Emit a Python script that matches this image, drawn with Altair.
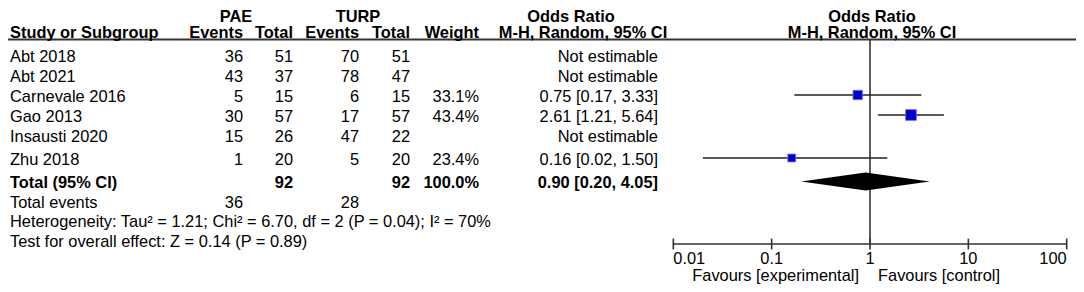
import altair as alt
import pandas as pd

# ---------------- data ----------------
studies = ["Abt 2018", "Abt 2021", "Carnevale 2016", "Gao 2013", "Insausti 2020", "Zhu 2018"]
pae_events = [36, 43, 5, 30, 15, 1]
pae_total = [51, 37, 15, 57, 26, 20]
turp_events = [70, 78, 6, 17, 47, 5]
turp_total = [51, 47, 15, 57, 22, 20]
weights = [None, None, 33.1, 43.4, None, 23.4]
or_est = [None, None, 0.75, 2.61, None, 0.16]
or_low = [None, None, 0.17, 1.21, None, 0.02]
or_high = [None, None, 3.33, 5.64, None, 1.50]
study_rows = [2.25, 3.25, 4.25, 5.25, 6.25, 7.4]

total_label = "Total (95% CI)"
total_pae = 92
total_turp = 92
total_weight = 100.0
total_or = 0.90
total_low = 0.20
total_high = 4.05
total_row = 8.58
events_row = 9.55
events_pae = 36
events_turp = 28
heterogeneity = "Heterogeneity: Tau\u00b2 = 1.21; Chi\u00b2 = 6.70, df = 2 (P = 0.04); I\u00b2 = 70%"
overall = "Test for overall effect: Z = 0.14 (P = 0.89)"
het_row = 10.5
overall_row = 11.5

tick_values = [0.01, 0.1, 1, 10, 100]
tick_labels = ["0.01", "0.1", "1", "10", "100"]
tick_align = ["left", "center", "center", "center", "right"]
favour_left = "Favours [experimental]"
favour_right = "Favours [control]"

# ---------------- layout ----------------
W, H = 1068, 236
FONT = "Liberation Sans"
FS = 16.4
DY = 1.5
head0_row = 0.25
head1_row = 1.075
header_line_row = 1.475
axis_row = 11.7
ticklabel_row = 12.375
favour_row = 13.2

yscale = alt.Scale(domain=[-0.1, axis_row], range=[0, H], zero=False, nice=False)
xscale = alt.Scale(type="log", domain=[0.01, 100], range=[665.3, 1058.7], nice=False)

def Y(field="row"):
    return alt.Y(f"{field}:Q", scale=yscale, axis=None)

def X(field):
    return alt.X(f"{field}:Q", scale=xscale, axis=None)

# column positions (x pixel, align)
cols = {
    "study": (2, "left"),
    "pae_e": (235, "right"),
    "pae_t": (285, "right"),
    "turp_e": (351, "right"),
    "turp_t": (402, "right"),
    "weight": (471, "right"),
    "or": (650, "right"),
    "h_pae": (228, "center"),
    "h_turp": (350, "center"),
    "h_or0": (563, "center"),
    "h_or1": (575, "center"),
    "h_forest": (864, "center"),
    "fav_l": (851, "right"),
    "fav_r": (870, "left"),
}

cells = []
def add(row, col, text, bold=False):
    cells.append({"row": row, "col": col, "text": str(text), "bold": bold})

# headers
add(head0_row, "h_pae", "PAE", True)
add(head0_row, "h_turp", "TURP", True)
add(head0_row, "h_or0", "Odds Ratio", True)
add(head0_row, "h_forest", "Odds Ratio", True)
add(head1_row, "study", "Study or Subgroup", True)
add(head1_row, "pae_e", "Events", True)
add(head1_row, "pae_t", "Total", True)
add(head1_row, "turp_e", "Events", True)
add(head1_row, "turp_t", "Total", True)
add(head1_row, "weight", "Weight", True)
add(head1_row, "h_or1", "M-H, Random, 95% CI", True)
add(head1_row, "h_forest", "M-H, Random, 95% CI", True)

for i, s in enumerate(studies):
    r = study_rows[i]
    add(r, "study", s)
    add(r, "pae_e", pae_events[i])
    add(r, "pae_t", pae_total[i])
    add(r, "turp_e", turp_events[i])
    add(r, "turp_t", turp_total[i])
    if weights[i] is not None:
        add(r, "weight", f"{weights[i]:.1f}%")
        add(r, "or", f"{or_est[i]:.2f} [{or_low[i]:.2f}, {or_high[i]:.2f}]")
    else:
        add(r, "or", "Not estimable")

add(total_row, "study", total_label, True)
add(total_row, "pae_t", total_pae, True)
add(total_row, "turp_t", total_turp, True)
add(total_row, "weight", f"{total_weight:.1f}%", True)
add(total_row, "or", f"{total_or:.2f} [{total_low:.2f}, {total_high:.2f}]", True)
add(events_row, "study", "Total events")
add(events_row, "pae_e", events_pae)
add(events_row, "turp_e", events_turp)
add(het_row, "study", heterogeneity)
add(overall_row, "study", overall)
add(favour_row, "fav_l", favour_left)
add(favour_row, "fav_r", favour_right)

cells_df = pd.DataFrame(cells)

layers = []

# header line
layers.append(
    alt.Chart(pd.DataFrame({"row": [header_line_row]}))
    .mark_rule(color="#333333", strokeWidth=2)
    .encode(x=alt.value(0), x2=alt.value(W), y=Y())
)

# table text
for col, (xpos, align) in cols.items():
    for bold in (False, True):
        sub = cells_df[(cells_df.col == col) & (cells_df.bold == bold)]
        if sub.empty:
            continue
        layers.append(
            alt.Chart(sub)
            .mark_text(align=align, baseline="middle", font=FONT, fontSize=FS, dy=DY,
                       fontWeight="bold" if bold else "normal", color="#000000")
            .encode(x=alt.value(xpos), y=Y(), text="text:N")
        )

# forest data
forest = pd.DataFrame({
    "row": study_rows, "est": or_est, "low": or_low, "high": or_high, "w": weights
}).dropna()

# line of no effect
layers.append(
    alt.Chart(pd.DataFrame({"x": [1.0], "row": [header_line_row], "row2": [axis_row]}))
    .mark_rule(color="#333333", strokeWidth=1.6)
    .encode(x=X("x"), y=Y(), y2="row2:Q")
)

# CI lines
layers.append(
    alt.Chart(forest)
    .mark_rule(color="#222222", strokeWidth=1.3)
    .encode(x=X("low"), x2="high:Q", y=Y())
)

# squares
layers.append(
    alt.Chart(forest)
    .mark_square(filled=True, color="#0000C4", stroke="#6A6AFF", strokeWidth=0.8, opacity=1)
    .encode(x=X("est"), y=Y(),
            size=alt.Size("w:Q", scale=alt.Scale(domain=[0, 100], range=[0, 265]), legend=None))
)

# diamond
diamond = pd.DataFrame({
    "x": [total_low, total_or, total_high],
    "top": [total_row, total_row - 0.45, total_row],
    "bot": [total_row, total_row + 0.45, total_row],
})
layers.append(
    alt.Chart(diamond)
    .mark_area(color="#000000", orient="vertical")
    .encode(x=X("x"), y=Y("top"), y2="bot:Q")
)

# axis line
layers.append(
    alt.Chart(pd.DataFrame({"x": [tick_values[0]], "x2": [tick_values[-1]], "row": [axis_row]}))
    .mark_rule(color="#333333", strokeWidth=1.6)
    .encode(x=X("x"), x2="x2:Q", y=Y())
)

# ticks
ticks = pd.DataFrame({"x": tick_values, "lab": tick_labels, "al": tick_align,
                      "row": [axis_row - 0.27] * 5, "row2": [axis_row + 0.27] * 5,
                      "lrow": [ticklabel_row] * 5})
layers.append(
    alt.Chart(ticks)
    .mark_rule(color="#333333", strokeWidth=1.6)
    .encode(x=X("x"), y=Y(), y2="row2:Q")
)
for al in ("left", "center", "right"):
    layers.append(
        alt.Chart(ticks[ticks.al == al])
        .mark_text(align=al, baseline="middle", font=FONT, fontSize=FS, dy=DY, color="#000000")
        .encode(x=X("x"), y=Y("lrow"), text="lab:N")
    )

chart = (
    alt.layer(*layers)
    .properties(width=W, height=H,
                padding={"left": 0, "top": 0, "right": 0, "bottom": 40},
                autosize=alt.AutoSizeParams(type="none"))
    .configure_view(stroke=None)
)

chart.save("out.html", embed_options={"renderer": "svg", "actions": False})
